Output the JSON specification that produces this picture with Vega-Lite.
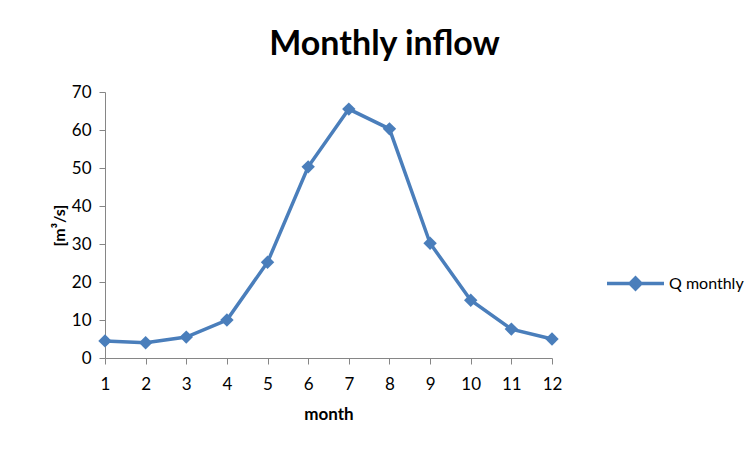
{
  "$schema": "https://vega.github.io/schema/vega-lite/v6.json",
  "width": 447,
  "height": 266,
  "autosize": "none",
  "padding": {"left": 105, "top": 92, "right": 202, "bottom": 93},
  "background": "white",
  "config": {"view": {"stroke": null}, "font": "Lato"},
  "title": {
    "text": "Monthly inflow",
    "fontSize": 34,
    "fontWeight": "bold",
    "font": "Lato",
    "color": "#000000",
    "anchor": "middle",
    "dx": 56,
    "offset": 21
  },
  "data": {
    "values": [
      {"month": 1, "Q": 4.5, "series": "Q monthly"},
      {"month": 2, "Q": 4.0, "series": "Q monthly"},
      {"month": 3, "Q": 5.5, "series": "Q monthly"},
      {"month": 4, "Q": 10.0, "series": "Q monthly"},
      {"month": 5, "Q": 25.2, "series": "Q monthly"},
      {"month": 6, "Q": 50.3, "series": "Q monthly"},
      {"month": 7, "Q": 65.5, "series": "Q monthly"},
      {"month": 8, "Q": 60.3, "series": "Q monthly"},
      {"month": 9, "Q": 30.2, "series": "Q monthly"},
      {"month": 10, "Q": 15.2, "series": "Q monthly"},
      {"month": 11, "Q": 7.6, "series": "Q monthly"},
      {"month": 12, "Q": 5.0, "series": "Q monthly"}
    ]
  },
  "mark": {
    "type": "line",
    "strokeWidth": 3.5,
    "point": {"filled": true, "shape": "diamond", "size": 180}
  },
  "encoding": {
    "x": {
      "field": "month",
      "type": "quantitative",
      "scale": {"domain": [1, 12], "nice": false, "zero": false},
      "axis": {
        "values": [1,2,3,4,5,6,7,8,9,10,11,12],
        "title": "month",
        "titleFont": "Lato",
        "titleFontSize": 17,
        "titleFontWeight": "bold",
        "titleColor": "#000000",
        "titlePadding": 14,
        "labelFont": "Lato",
        "labelFontSize": 17,
        "labelColor": "#000000",
        "labelPadding": 12,
        "tickSize": 6,
        "tickColor": "#868686",
        "domainColor": "#868686",
        "grid": false,
        "labelFlush": false
      }
    },
    "y": {
      "field": "Q",
      "type": "quantitative",
      "scale": {"domain": [0, 70], "nice": false},
      "axis": {
        "values": [0,10,20,30,40,50,60,70],
        "title": "[m³/s]",
        "titleFont": "Lato",
        "titleFontSize": 16,
        "titleFontWeight": "bold",
        "titleColor": "#000000",
        "titlePadding": 4,
        "labelFont": "Lato",
        "labelFontSize": 17,
        "labelColor": "#000000",
        "labelPadding": 8,
        "tickSize": 6,
        "tickColor": "#868686",
        "domainColor": "#868686",
        "grid": false
      }
    },
    "color": {
      "field": "series",
      "type": "nominal",
      "scale": {"range": ["#4a7ebb"]},
      "legend": {
        "title": null,
        "orient": "none",
        "legendX": 500,
        "legendY": 161,
        "symbolType": "M-1,0H1M0,-0.19L0.19,0L0,0.19L-0.19,0Z",
        "symbolSize": 3249,
        "symbolStrokeWidth": 3.5,
        "symbolFillColor": "#4a7ebb",
        "symbolStrokeColor": "#4a7ebb",
        "labelFont": "Lato",
        "labelFontSize": 16,
        "labelColor": "#000000",
        "labelOffset": 3
      }
    }
  }
}
